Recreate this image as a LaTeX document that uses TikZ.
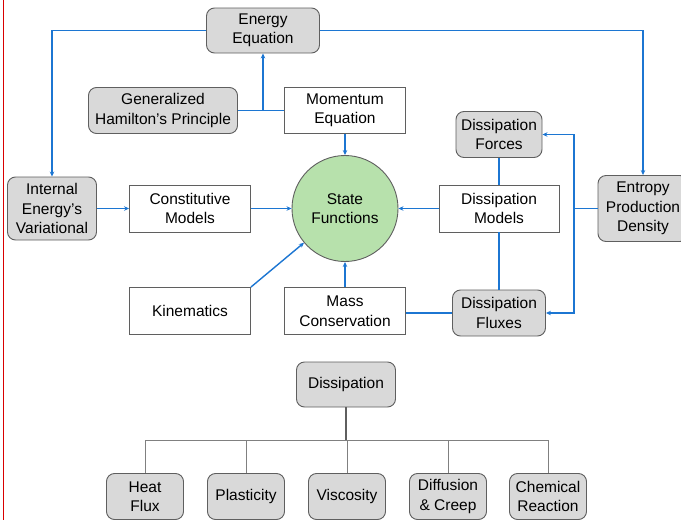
\documentclass[tikz,border=0pt]{standalone}
\usepackage{fontspec}
\setmainfont{Liberation Sans}
\usepackage{xcolor}
\usetikzlibrary{arrows.meta}
\definecolor{flowblue}{RGB}{28,118,210}
\definecolor{boxgray}{RGB}{217,217,217}
\definecolor{edgegray}{RGB}{95,95,95}
\definecolor{stategreen}{RGB}{183,225,172}
\tikzset{
  txt/.style={font=\fontsize{15.5}{19.5}\selectfont, align=center, inner sep=0pt},
  graybox/.style={txt, draw=edgegray, line width=0.9pt, fill=boxgray, rounded corners=8pt},
  whitebox/.style={txt, draw=edgegray, line width=0.9pt, fill=white},
  flow/.style={draw=flowblue, line width=1.4pt},
  flowarr/.style={flow, -{Stealth[length=5pt,width=4.5pt]}},
  treeline/.style={draw=gray, line width=0.8pt}
}
\begin{document}
\begin{tikzpicture}[x=1pt,y=-1pt]
			\clip (0,0) rectangle (681,520);
			\useasboundingbox (0,0) rectangle (681,520);
			\fill[white] (0,0) rectangle (681,520);
			\draw[red!85!black, line width=0.8pt] (3,0) -- (3,520);
			% upper part
			\node[graybox, minimum width=113pt, minimum height=45pt] (energy) at (263,30.5) {Energy\\Equation};
			\node[graybox, minimum width=149pt, minimum height=46pt] (hamilton) at (163,110.5) {Generalized\\Hamilton’s Principle};
			\node[whitebox, minimum width=121pt, minimum height=46pt] (momentum) at (345,110.5) {Momentum\\Equation};
			\node[graybox, minimum width=89pt, minimum height=63pt] (internal) at (52,208.5) {Internal\\Energy’s\\Variational};
			\node[whitebox, minimum width=121pt, minimum height=47pt] (constitutive) at (190,208.5) {Constitutive\\Models};
			\node[circle, txt, draw=edgegray, line width=0.9pt, fill=stategreen, minimum size=106pt] (state) at (345,208.5) {State\\Functions};
			\node[whitebox, minimum width=120pt, minimum height=47pt] (dmodels) at (499,208.5) {Dissipation\\Models};
			\node[graybox, minimum width=86pt, minimum height=46pt] (dforces) at (499,134.5) {Dissipation\\Forces};
			\node[graybox, minimum width=90pt, minimum height=66pt] (entropy) at (643,208.5) {Entropy\\Production\\Density};
			\node[whitebox, minimum width=121pt, minimum height=47pt] (kinematics) at (190,311) {Kinematics};
			\node[whitebox, minimum width=121pt, minimum height=47pt] (mass) at (345,311) {Mass\\Conservation};
			\node[graybox, minimum width=93pt, minimum height=46pt] (dfluxes) at (499,313) {Dissipation\\Fluxes};
			\coordinate (hjoin) at (263,110.5);
			\coordinate (ejoin) at (574,208.5);
			% connectors
			\draw[flow] (hamilton.east) -- (momentum.west);
			\draw[flowarr] (hjoin) -- (energy.south);
			\draw[flowarr] (energy.west) -| (internal.north);
			\draw[flowarr] (energy.east) -| (entropy.north);
			\draw[flowarr] (internal) -- (constitutive);
			\draw[flowarr] (constitutive) -- (state);
			\draw[flowarr] (kinematics.north east) -- (state);
			\draw[flowarr] (momentum) -- (state);
			\draw[flowarr] (mass) -- (state);
			\draw[flowarr] (dmodels) -- (state);
			\draw[flow] (dforces) -- (dmodels);
			\draw[flow] (dmodels) -- (dfluxes);
			\draw[flow] (dfluxes.west) -- (dfluxes.west -| mass.east);
			\draw[flow] (entropy.west) -- (ejoin);
			\draw[flowarr] (ejoin) |- (dforces.east);
			\draw[flowarr] (ejoin) |- (dfluxes.east);
			% dissipation tree
			\node[graybox, minimum width=99pt, minimum height=45pt] (dissipation) at (346,384.5) {Dissipation};
			\foreach \name/\x/\label in {heat/145/Heat\\Flux, plasticity/246/Plasticity, viscosity/347/Viscosity, diffusion/448/Diffusion\\\& Creep, chemical/548/Chemical\\Reaction}
				\node[graybox, minimum width=77pt, minimum height=46pt] (\name) at (\x,496.5) {\label};
			\coordinate (tjoin) at (346,440);
			\draw[treeline, draw=edgegray, line width=1.2pt] (dissipation.south) -- (tjoin);
			\draw[treeline] (heat.north |- tjoin) -- (chemical.north |- tjoin);
			\foreach \name in {heat,plasticity,viscosity,diffusion,chemical}
				\draw[treeline] (\name.north) -- (\name.north |- tjoin);
		\end{tikzpicture}
\end{document}
